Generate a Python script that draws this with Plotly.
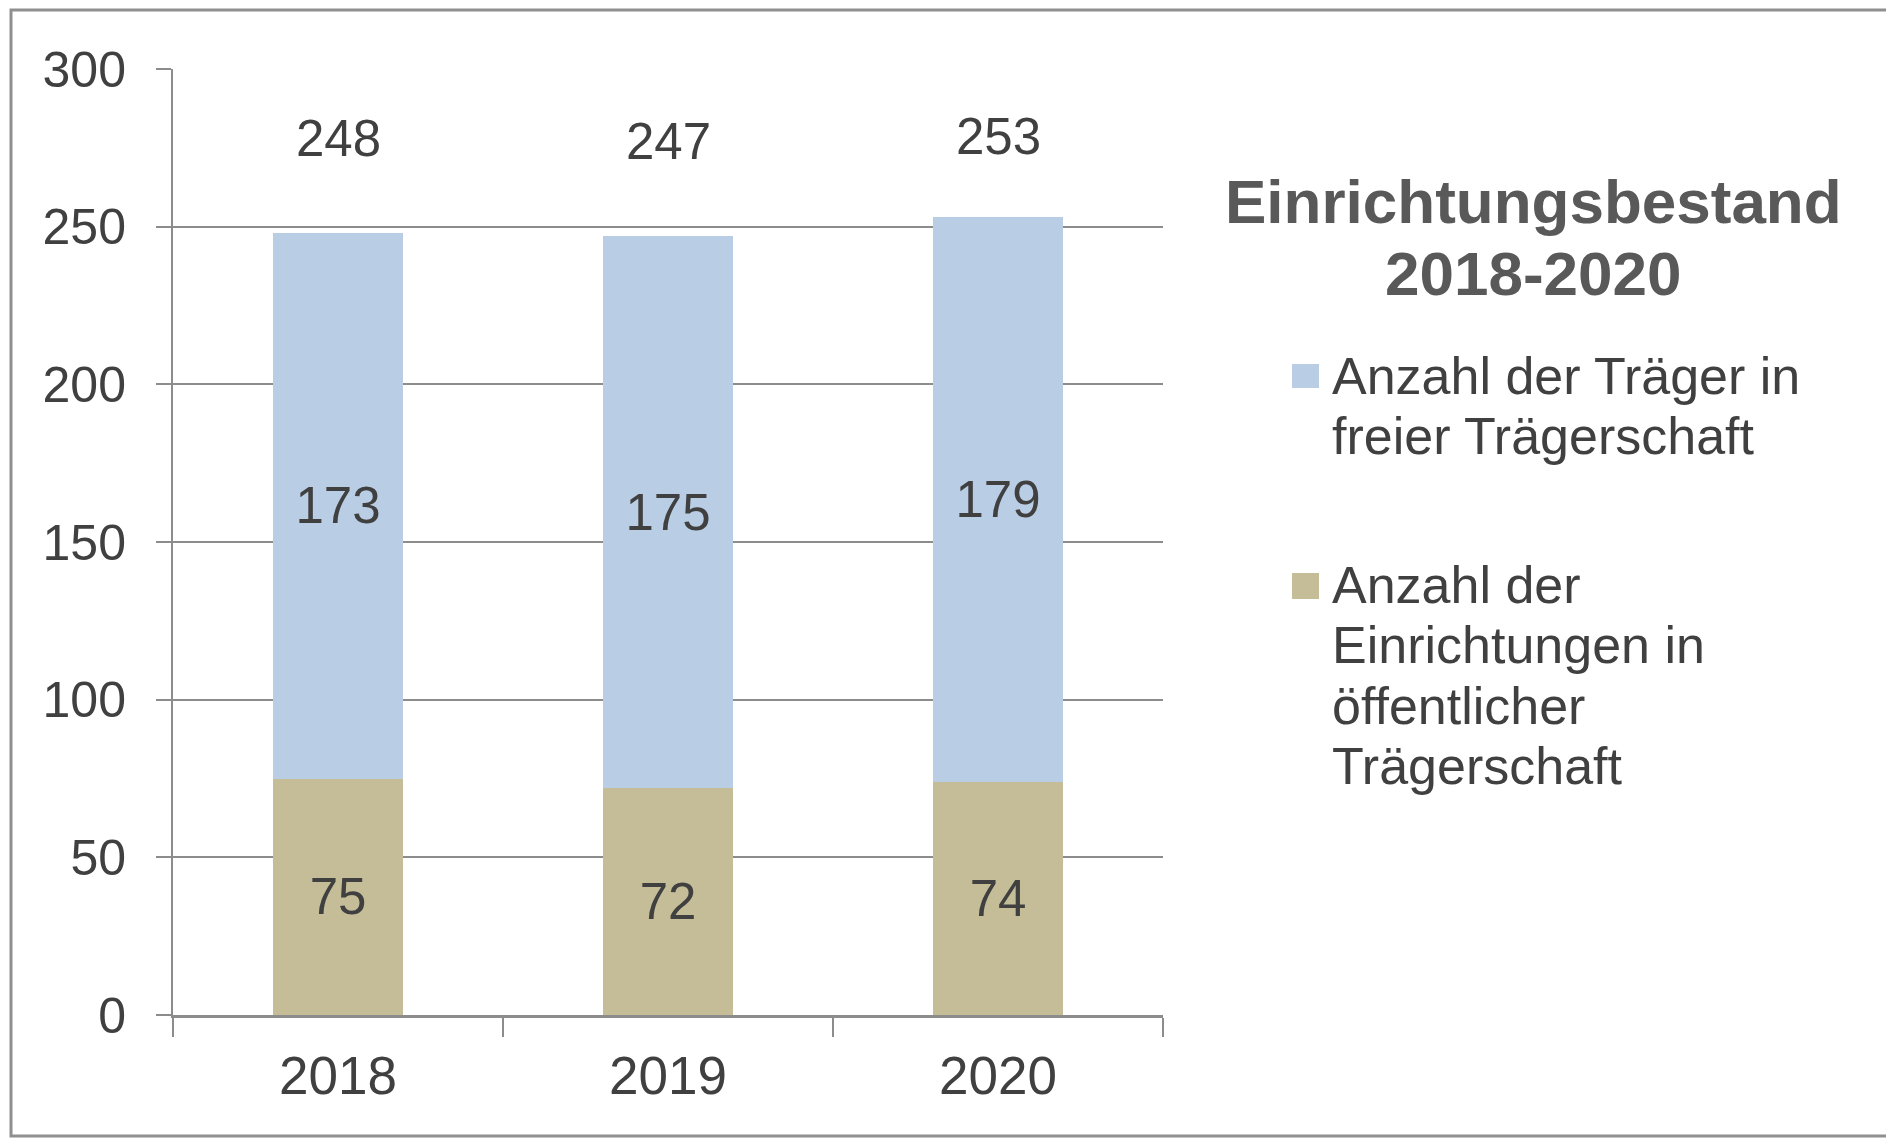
import plotly.graph_objects as go

# ---- data ----
years = ["2018", "2019", "2020"]
oeffentlich = [75, 72, 74]
frei = [173, 175, 179]
series_names = ["Anzahl der Träger in<br>freier Trägerschaft",
                "Anzahl der<br>Einrichtungen in<br>öffentlicher<br>Trägerschaft"]
title_lines = ["Einrichtungsbestand", "2018-2020"]
y_ticks = [0, 50, 100, 150, 200, 250, 300]

totals = [a + b for a, b in zip(oeffentlich, frei)]

# ---- styling ----
OFF = 8                      # page body margin offset
W, H = 1894 - OFF, 1138 - OFF
L, R, T, B = 173 - OFF, 1163 - OFF, 69 - OFF, 1015 - OFF   # plot area in figure px
FONT = "Liberation Sans, Arial, sans-serif"
TXT = "#404040"
GRID = "#8c8c8c"
BLUE = "#B9CDE5"
TAN = "#C4BD97"


def xp(px):
    """page px (reference coords) -> paper x"""
    return (px - OFF - L) / (R - L)


def yp(py):
    return (B - (py - OFF)) / (B - T)


fig = go.Figure()
fig.add_trace(go.Bar(
    x=years, y=oeffentlich, name=series_names[1].replace("<br>", " "),
    marker=dict(color=TAN, line=dict(width=0)), width=0.395,
    text=[str(v) for v in oeffentlich], textposition="inside",
    insidetextanchor="middle", constraintext="none",
    textfont=dict(family=FONT, size=51, color=TXT), showlegend=False,
))
fig.add_trace(go.Bar(
    x=years, y=frei, name=series_names[0].replace("<br>", " "),
    marker=dict(color=BLUE, line=dict(width=0)), width=0.395,
    text=[str(v) for v in frei], textposition="inside",
    insidetextanchor="middle", constraintext="none",
    textfont=dict(family=FONT, size=51, color=TXT), showlegend=False,
))

annotations = []
# totals above bars (category index positions)
total_shift = [0, -3, 2]
for i, tot in enumerate(totals):
    annotations.append(dict(
        x=i, y=278, xref="x", yref="y", text=str(tot), showarrow=False,
        yshift=total_shift[i],
        font=dict(family=FONT, size=51, color=TXT), xanchor="center", yanchor="middle",
    ))

# title in legend area
title_centers = [201, 273]
for line, cy in zip(title_lines, title_centers):
    annotations.append(dict(
        x=xp(1533), y=yp(cy), xref="paper", yref="paper", text="<b>%s</b>" % line,
        showarrow=False, font=dict(family=FONT, size=62, color="#595959"),
        xanchor="center", yanchor="middle",
    ))

# custom legend
legend_items = [
    (series_names[0], BLUE, 364, 388, [376, 436]),
    (series_names[1], TAN, 573, 599, [585, 645, 706, 766]),
]
shapes = []
for name, col, sy0, sy1, centers in legend_items:
    shapes.append(dict(type="rect", xref="paper", yref="paper",
                       x0=xp(1292), x1=xp(1319), y0=yp(sy1), y1=yp(sy0),
                       fillcolor=col, line=dict(width=0)))
    for line, cy in zip(name.split("<br>"), centers):
        annotations.append(dict(
            x=xp(1330), y=yp(cy), xref="paper", yref="paper", text=line,
            showarrow=False, font=dict(family=FONT, size=52, color=TXT),
            xanchor="left", yanchor="middle",
        ))

# outer border
shapes.append(dict(type="rect", xref="paper", yref="paper",
                   x0=xp(11), x1=xp(1891), y0=yp(1136), y1=yp(10),
                   fillcolor="rgba(0,0,0,0)", line=dict(color="#8f8f8f", width=3)))

fig.update_layout(
    width=W, height=H,
    margin=dict(l=L, r=W - R, t=T, b=H - B, pad=0, autoexpand=False),
    paper_bgcolor="white", plot_bgcolor="white",
    barmode="stack",
    font=dict(family=FONT, color=TXT),
    showlegend=False,
    annotations=annotations,
    shapes=shapes,
    xaxis=dict(
        type="category", range=[-0.5, 2.5], automargin=False, tickangle=0,
        showline=True, linecolor=GRID, linewidth=3,
        ticks="outside", tickson="boundaries", ticklen=19, tickcolor=GRID, tickwidth=2,
        showgrid=False, tickfont=dict(family=FONT, size=53, color=TXT),
        ticklabelstandoff=12,
    ),
    yaxis=dict(
        range=[0, 300], tickvals=y_ticks, automargin=False,
        showline=True, linecolor=GRID, linewidth=2,
        ticks="outside", ticklen=15, tickcolor=GRID, tickwidth=2,
        showgrid=True, gridcolor=GRID, gridwidth=2, zeroline=False,
        tickfont=dict(family=FONT, size=50, color=TXT), ticklabelstandoff=20,
    ),
)

fig.write_html("out.html")
